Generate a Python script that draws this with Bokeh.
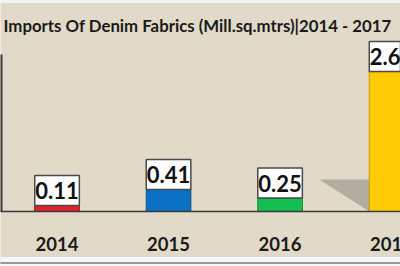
from bokeh.plotting import figure
from bokeh.models import Range1d, Label
from bokeh.core.properties import value
from bokeh.embed import file_html
from bokeh.resources import INLINE

# Data
years = ["2014", "2015", "2016", "2017"]
imports = [0.11, 0.41, 0.25, 2.61]
labels = ["0.11", "0.41", "0.25", "2.61"]
colors = ["#e5202a", "#0b72c6", "#12c052", "#ffcb05"]
edge_colors = ["#9a1218", "#0a4f8a", "#0c8a3a", "#c99a00"]
title_text = "Imports Of Denim Fabrics (Mill.sq.mtrs)|2014 - 2017"

W, H = 400, 266
AXIS_PX = 211.0     # pixel row of zero line
SCALE = 53.6        # pixels per unit

def py(pix):
    """pixel row -> data y"""
    return (AXIS_PX - pix) / SCALE

xs = list(range(len(years)))

p = figure(width=W, height=H, output_backend="svg", toolbar_location=None,
           x_range=Range1d(-0.507, 3.08), y_range=Range1d(py(H), py(0)),
           min_border=0)
p.axis.visible = False
p.grid.visible = False
p.outline_line_color = None
p.background_fill_color = "#e1dac9"
p.border_fill_color = "#e1dac9"

# top and bottom bands
p.quad(left=-1, right=4, bottom=py(2.5), top=py(-2), fill_color="#f3f3f3", line_color=None)
p.quad(left=-1, right=4, bottom=py(H + 2), top=py(256.5), fill_color="#f6f6f6", line_color=None)
p.segment(x0=-1, x1=4, y0=py(262.5), y1=py(262.5), line_color="#9a9a9a", line_width=2)

bar_w = 0.40
box_h = 30 / SCALE

# shadow left of last bar
last = xs[-1]
sx_right = last - bar_w / 2
sx_left = sx_right - 50 / 111.5
sy_top = 32 / SCALE
p.patch(x=[sx_left, sx_right, sx_right], y=[sy_top, sy_top, 0],
        fill_color="#aaa598", fill_alpha=0.85, line_color=None)

# bars
p.vbar(x=xs, top=imports, bottom=0, width=bar_w, fill_color=colors,
       line_color=edge_colors, line_width=1)

# axis lines
p.segment(x0=-1, x1=4, y0=0, y1=0, line_color="#3a3a3a", line_width=1.5)
p.segment(x0=-0.5, x1=-0.5, y0=0, y1=py(54), line_color="#3a3a3a", line_width=2.5)

# value boxes
p.vbar(x=xs, bottom=imports, top=[v + box_h for v in imports], width=bar_w,
       fill_color="white", line_color="#4a4a4a", line_width=1.5)
p.text(x=xs, y=[v + box_h / 2 for v in imports], text=labels,
       text_font=value("Lato"), text_font_style="bold", text_font_size="22px",
       text_align="center", text_baseline="middle", text_color="#111111")

# year labels
p.text(x=xs, y=[py(243.5)] * len(xs), text=years,
       text_font=value("Lato"), text_font_style="bold", text_font_size="18.5px",
       text_align="center", text_baseline="middle", text_color="#1a1a1a")

# title
p.add_layout(Label(x=3, y=H - 25, x_units="screen", y_units="screen", text=title_text,
                   text_font="Lato", text_font_style="bold", text_font_size="16.8px",
                   text_color="#1a1a1a", text_baseline="alphabetic"))

open("out.html", "w").write(file_html(p, INLINE))
